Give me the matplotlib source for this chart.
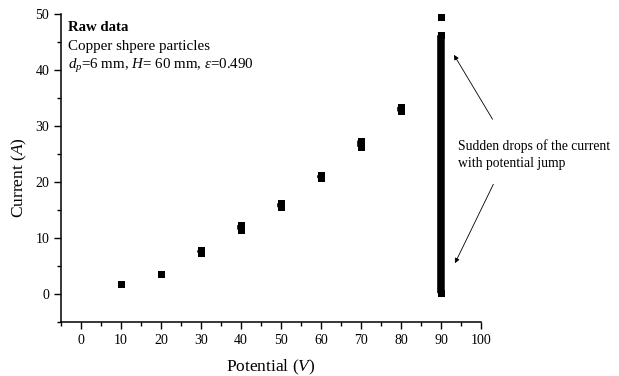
import matplotlib
matplotlib.use('Agg')
import matplotlib.pyplot as plt
from matplotlib.ticker import MultipleLocator

plt.rcParams['font.family'] = ['Liberation Serif', 'DejaVu Serif']
plt.rcParams['mathtext.fontset'] = 'custom'
plt.rcParams['mathtext.rm'] = 'Liberation Serif'
plt.rcParams['mathtext.it'] = 'Liberation Serif:italic'

# measured current at each potential: spread from lowest to highest reading
potential = [10, 20, 30, 40, 50, 60, 70, 80, 90]
current_low = [1.7, 3.6, 7.4, 11.5, 15.5, 20.7, 26.3, 32.6, 0.15]
current_high = [1.7, 3.6, 7.8, 12.3, 16.2, 21.2, 27.4, 33.4, 46.2]

# reading just before the sudden drop
peak_potential = [90]
peak_current = [49.5]

MARKER = 5.04  # 7 px at 100 dpi

fig = plt.figure(figsize=(6.19, 3.76), dpi=100)
ax = fig.add_axes([0.0985, 0.1436, 0.6785, 0.8192])

ax.vlines(potential, current_low, current_high, colors='k', linewidth=MARKER + 0.4,
          snap=False)
for ys in (current_low, current_high):
    ax.plot(potential, ys, 's', color='k', markersize=MARKER, markeredgewidth=0, snap=False)
ax.plot(peak_potential, peak_current, 's', color='k', markersize=MARKER,
        markeredgewidth=0, snap=False)

ax.set_xlim(-5, 100)
ax.set_ylim(-5, 50)
ax.xaxis.set_major_locator(MultipleLocator(10))
ax.xaxis.set_minor_locator(MultipleLocator(5))
ax.yaxis.set_major_locator(MultipleLocator(10))
ax.yaxis.set_minor_locator(MultipleLocator(5))
ax.tick_params(which='major', direction='out', length=5, width=1, labelsize=10)
ax.tick_params(which='minor', direction='out', length=3, width=1)

for side in ['top', 'right']:
    ax.spines[side].set_visible(False)
for side in ['left', 'bottom']:
    ax.spines[side].set_linewidth(1.1)

ax.set_xlabel('Potential ($V$)', fontsize=12.5)
ax.set_ylabel('Current ($A$)', fontsize=12.5)
ax.xaxis.set_label_coords(0.5, -0.117)
ax.yaxis.set_label_coords(-0.098, 0.468)
ax.yaxis.label.set_va('center')

ax.text(0.017, 0.945, 'Raw data', transform=ax.transAxes, fontsize=10.6,
        fontweight='bold', va='baseline')
ax.text(0.017, 0.883, 'Copper shpere particles', transform=ax.transAxes,
        fontsize=10.8, va='baseline')
ax.text(0.017, 0.821, r'$d_p$=6 mm, $H$= 60 mm, $\varepsilon$=0.490',
        transform=ax.transAxes, fontsize=10.8, va='baseline')

arrow = dict(arrowstyle='-|>', color='k', lw=0.6, mutation_scale=7, shrinkA=0, shrinkB=0)
ax.annotate('', xy=(93.25, 42.7), xytext=(102.9, 31.2), arrowprops=arrow,
            annotation_clip=False)
ax.annotate('', xy=(93.5, 5.5), xytext=(103.1, 19.6), arrowprops=arrow,
            annotation_clip=False)
ax.text(94.2, 24.9, 'Sudden drops of the current\nwith potential jump',
        fontsize=9.8, va='center', ha='left', linespacing=1.35, clip_on=False)

fig.savefig('out.png', dpi=100)
